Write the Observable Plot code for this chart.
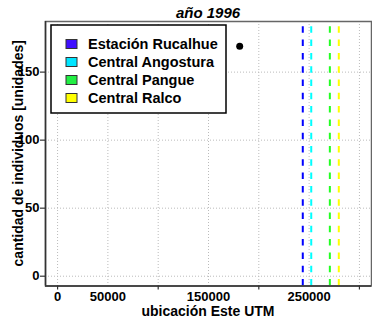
<!DOCTYPE html>
<html>
<head>
<meta charset="utf-8">
<script src="https://cdn.jsdelivr.net/npm/d3@7"></script>
<script src="https://cdn.jsdelivr.net/npm/@observablehq/plot@0.6"></script>
<style>
  html, body { margin: 0; padding: 0; background: #fff; }
  svg { display: block; }
</style>
</head>
<body>
<div id="chart"></div>
<script>
const title = "año 1996";
const xLabel = "ubicación Este UTM";
const yLabel = "cantidad de individuos [unidades]";

const stationNames = ["Estación Rucalhue", "Central Angostura", "Central Pangue", "Central Ralco"];
const stationX = [243700, 252100, 270600, 279500];
const lineColors = ["#0000ff", "#00ffff", "#22ff22", "#ffff00"];
const legendColors = ["#4010ff", "#00e5ff", "#22ee44", "#ffff00"];

const pointX = [181000];
const pointY = [169];

const xTickMarks = [0, 100000, 200000, 300000];
const xTickLabels = [0, 50000, 150000, 250000];
const xGrid = [0, 50000, 100000, 150000, 200000, 250000, 300000];
const yTicks = [0, 50, 100, 150];

const xDomain = [-12000, 312000];
const yDomain = [-7.2, 187.2];

const stations = stationNames.map((name, i) => ({name, x: stationX[i], color: lineColors[i]}));
const points = pointX.map((x, i) => ({x, y: pointY[i]}));

const W = 372, H = 331;
const mL = 45, mR = 1, mT = 21, mB = 45.5;

const plot = Plot.plot({
  width: W,
  height: H,
  marginLeft: mL,
  marginRight: mR,
  marginTop: mT,
  marginBottom: mB,
  style: {fontFamily: "'Liberation Sans', Arial, Helvetica, sans-serif", background: "#fff", overflow: "visible"},
  x: {domain: xDomain},
  y: {domain: yDomain},
  marks: [
    Plot.gridX(xGrid, {stroke: "#bbb", strokeOpacity: 1, strokeDasharray: "1,2"}),
    Plot.gridY(yTicks, {stroke: "#bbb", strokeOpacity: 1, strokeDasharray: "1,2"}),
    Plot.ruleX(stations, {x: "x", y1: yDomain[0], y2: yDomain[1], stroke: "color", strokeWidth: 2, strokeDasharray: "6.5,6.8"}),
    Plot.dot(points, {x: "x", y: "y", r: 3.5, fill: "black", stroke: "none"}),
    Plot.frame({stroke: "#666", strokeWidth: 1.5}),
    Plot.ruleX([xDomain[0]], {stroke: "#333", strokeWidth: 1.5}),
    Plot.ruleY([yDomain[0]], {stroke: "#333", strokeWidth: 1.5}),
    Plot.axisX(xTickMarks, {tickSize: 4, tickFormat: () => "", label: null, stroke: "#333", strokeWidth: 1.2}),
    Plot.axisX(xTickLabels, {tickSize: 0, tickPadding: 6, label: null, fontSize: 13, fontWeight: "bold", fill: "#000", tickFormat: d => String(d)}),
    Plot.axisY(yTicks, {tickSize: 5, tickPadding: 1, label: null, fontSize: 13, fontWeight: "bold", fill: "#000", stroke: "#333", strokeWidth: 1.2, tickFormat: d => String(d)})
  ]
});

document.getElementById("chart").appendChild(plot);

const svg = d3.select(plot);
const font = "'Liberation Sans', Arial, Helvetica, sans-serif";
const cx = mL + (W - mR - mL) / 2;
const cy = mT + (H - mB - mT) / 2;

svg.append("text")
  .attr("x", cx).attr("y", 18)
  .attr("text-anchor", "middle")
  .attr("font-family", font).attr("font-size", 15)
  .attr("font-weight", "bold").attr("font-style", "italic")
  .attr("fill", "#000")
  .text(title);

svg.append("text")
  .attr("x", cx).attr("y", 316)
  .attr("text-anchor", "middle")
  .attr("font-family", font).attr("font-size", 14)
  .attr("font-weight", "bold")
  .attr("fill", "#000")
  .text(xLabel);

svg.append("text")
  .attr("transform", `translate(23,${cy}) rotate(-90)`)
  .attr("text-anchor", "middle")
  .attr("font-family", font).attr("font-size", 14)
  .attr("font-weight", "bold")
  .attr("fill", "#000")
  .text(yLabel);

// legend
const lg = svg.append("g").attr("text-anchor", "start");
lg.append("rect")
  .attr("x", 51).attr("y", 25).attr("width", 175).attr("height", 88)
  .attr("fill", "#fff").attr("stroke", "#000").attr("stroke-width", 1.5);
stationNames.forEach((name, i) => {
  const yy = 44 + i * 18;
  lg.append("rect")
    .attr("x", 66).attr("y", yy - 4.5).attr("width", 11).attr("height", 9)
    .attr("fill", legendColors[i]).attr("stroke", "#333").attr("stroke-width", 1);
  lg.append("text")
    .attr("x", 88).attr("y", yy)
    .attr("dy", "0.35em")
    .attr("text-anchor", "start")
    .attr("font-family", font).attr("font-size", 14.5)
    .attr("font-weight", "bold")
    .attr("fill", "#000")
    .text(name);
});
</script>
</body>
</html>
